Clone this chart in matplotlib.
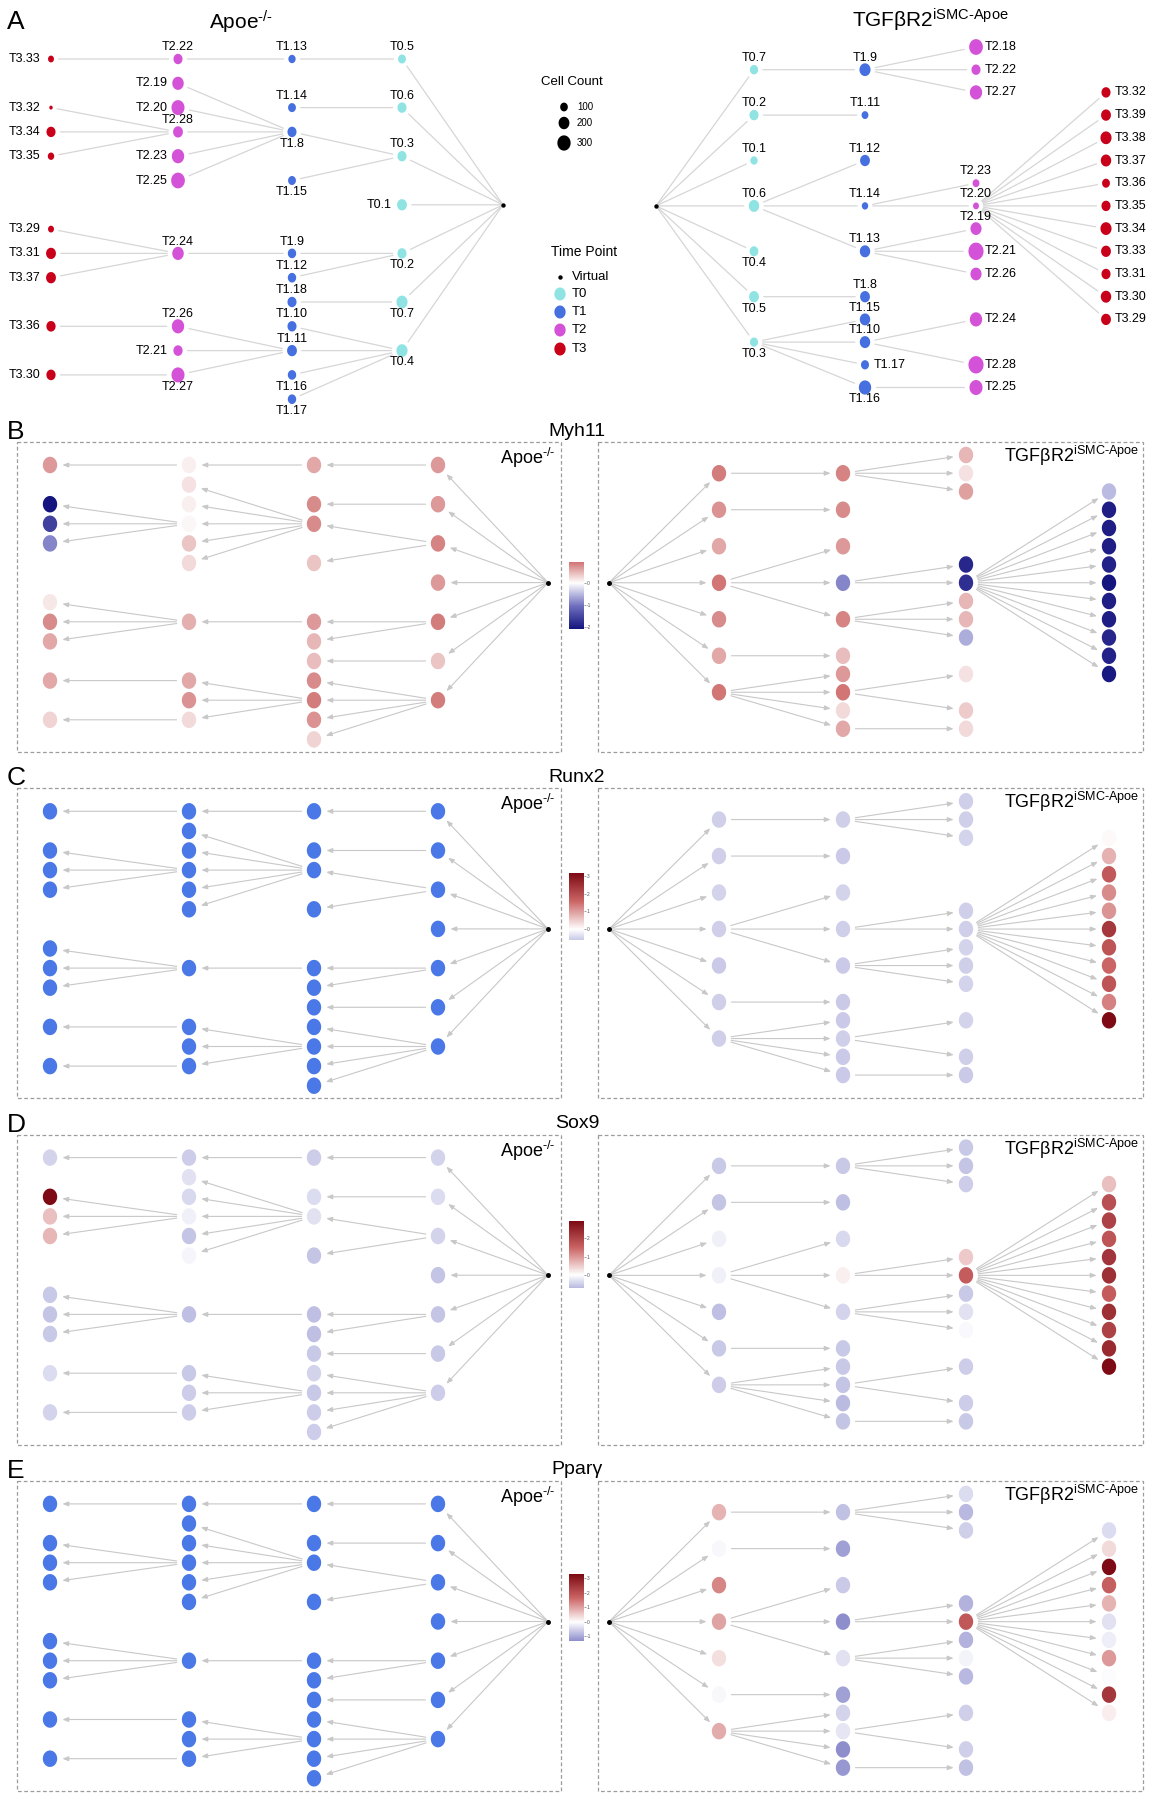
import numpy as np
import matplotlib
matplotlib.use("Agg")
import matplotlib.pyplot as plt
from matplotlib.path import Path
from matplotlib.patches import Rectangle
from matplotlib.colors import LinearSegmentedColormap, Normalize

plt.rcParams['font.family'] = ['Liberation Sans', 'DejaVu Sans']
plt.rcParams['mathtext.fontset'] = 'custom'
plt.rcParams['mathtext.rm'] = 'Liberation Sans'
plt.rcParams['mathtext.it'] = 'Liberation Sans:italic'
plt.rcParams['mathtext.bf'] = 'Liberation Sans:bold'

# --- Data: lineage trees (clusters per time point, parent cluster, cell counts) ---
TIMES = ['T0', 'T1', 'T2', 'T3']
CELL_LEGEND = [100, 200, 300]

apoe_nodes = [
    ['T0.5', 'T0.6', 'T0.3', 'T0.1', 'T0.2', 'T0.7', 'T0.4'],
    ['T1.13', 'T1.14', 'T1.8', 'T1.15', 'T1.9', 'T1.12', 'T1.18', 'T1.10', 'T1.11', 'T1.16', 'T1.17'],
    ['T2.22', 'T2.19', 'T2.20', 'T2.28', 'T2.23', 'T2.25', 'T2.24', 'T2.26', 'T2.21', 'T2.27'],
    ['T3.33', 'T3.32', 'T3.34', 'T3.35', 'T3.29', 'T3.31', 'T3.37', 'T3.36', 'T3.30'],
]
apoe_parent = [
    ['Virtual'] * 7,
    ['T0.5', 'T0.6', 'T0.3', 'T0.3', 'T0.2', 'T0.2', 'T0.7', 'T0.4', 'T0.4', 'T0.4', 'T0.4'],
    ['T1.13', 'T1.8', 'T1.8', 'T1.8', 'T1.8', 'T1.8', 'T1.9', 'T1.11', 'T1.11', 'T1.11'],
    ['T2.22', 'T2.28', 'T2.28', 'T2.28', 'T2.24', 'T2.24', 'T2.24', 'T2.26', 'T2.27'],
]
apoe_cells = [
    [105, 140, 140, 165, 140, 210, 210],
    [90, 105, 140, 105, 120, 120, 140, 140, 165, 120, 120],
    [140, 225, 290, 165, 260, 320, 225, 260, 145, 290],
    [60, 20, 140, 70, 60, 165, 165, 145, 145],
]

tgfb_nodes = [
    ['T0.7', 'T0.2', 'T0.1', 'T0.6', 'T0.4', 'T0.5', 'T0.3'],
    ['T1.9', 'T1.11', 'T1.12', 'T1.14', 'T1.13', 'T1.8', 'T1.15', 'T1.10', 'T1.17', 'T1.16'],
    ['T2.18', 'T2.22', 'T2.27', 'T2.23', 'T2.20', 'T2.19', 'T2.21', 'T2.26', 'T2.24', 'T2.28', 'T2.25'],
    ['T3.32', 'T3.39', 'T3.38', 'T3.37', 'T3.36', 'T3.35', 'T3.34', 'T3.33', 'T3.31', 'T3.30', 'T3.29'],
]
tgfb_parent = [
    ['Virtual'] * 7,
    ['T0.7', 'T0.2', 'T0.6', 'T0.6', 'T0.6', 'T0.5', 'T0.3', 'T0.3', 'T0.3', 'T0.3'],
    ['T1.9', 'T1.9', 'T1.9', 'T1.14', 'T1.14', 'T1.13', 'T1.13', 'T1.13', 'T1.10', 'T1.10', 'T1.16'],
    ['T2.20'] * 11,
]
tgfb_cells = [
    [115, 140, 90, 185, 130, 165, 110],
    [210, 80, 165, 70, 185, 165, 185, 185, 110, 260],
    [320, 140, 260, 80, 60, 210, 390, 210, 260, 390, 290],
    [140, 165, 210, 185, 105, 140, 210, 165, 140, 185, 165],
]

# --- Data: scaled gene expression per cluster (node order T0, T1, T2, T3; nan = not shown) ---
genes = ['Myh11', 'Runx2', 'Sox9', 'Pparγ']
nan = np.nan
myh11_apoe = [0.7, 0.7, 0.85, 0.7, 0.9, 0.4, 0.9,
              0.6, 0.8, 0.8, 0.4, 0.7, 0.5, 0.45, 0.8, 0.9, 0.75, 0.3,
              0.1, 0.2, 0.1, 0.05, 0.4, 0.25, 0.55, 0.6, 0.75, 0.25,
              0.7, -2.1, -1.6, -0.9, 0.15, 0.8, 0.6, 0.6, 0.3]
myh11_tgfb = [0.9, 0.75, 0.6, 0.95, 0.8, 0.6, 0.95,
              0.85, 0.8, 0.7, -0.9, 0.85, 0.45, 0.7, 0.95, 0.25, 0.6,
              0.5, 0.2, 0.65, -1.9, -1.8, 0.5, 0.5, -0.6, 0.2, 0.35, 0.25,
              -0.5, -2.0, -2.0, -2.0, -1.95, -2.1, -2.0, -2.0, -1.9, -1.95, -2.05]
runx2_apoe = [nan] * 37
runx2_tgfb = [-0.55, -0.55, -0.5, -0.55, -0.6, -0.55, -0.55,
              -0.55, -0.6, -0.5, -0.55, -0.6, -0.6, -0.6, -0.55, -0.6, -0.6,
              -0.55, -0.55, -0.5, -0.55, -0.55, -0.5, -0.55, -0.5, -0.5, -0.55, -0.6,
              0.05, 0.8, 1.8, 1.2, 1.1, 2.4, 1.9, 1.6, 1.9, 1.3, 3.2]
sox9_apoe = [-0.45, -0.35, -0.45, -0.6, -0.6, -0.55, -0.5,
             -0.5, -0.35, -0.3, -0.6, -0.65, -0.65, -0.55, -0.45, -0.55, -0.5, -0.5,
             -0.5, -0.3, -0.4, -0.15, -0.6, -0.1, -0.65, -0.55, -0.5, -0.5,
             -0.45, 2.9, 0.6, 0.7, -0.55, -0.6, -0.55, -0.35, -0.45]
sox9_tgfb = [-0.55, -0.6, -0.15, -0.15, -0.65, -0.55, -0.5,
             -0.55, -0.65, -0.4, 0.15, -0.45, -0.55, -0.55, -0.6, -0.7, -0.6,
             -0.55, -0.6, -0.5, 0.5, 1.6, -0.55, -0.3, -0.05, -0.5, -0.5, -0.55,
             0.6, 1.8, 2.0, 1.7, 2.2, 2.3, 1.6, 2.3, 2.0, 2.4, 2.9]
ppar_apoe = [nan] * 37
ppar_tgfb = [0.8, -0.1, 1.3, 1.0, 0.35, -0.1, 0.9,
             -0.7, -1.1, -0.6, -1.3, -0.35, -1.1, -0.5, -0.3, -1.3, -1.2,
             -0.4, -0.8, -0.55, -0.9, 1.9, -0.9, -0.15, -0.8, -0.55, -0.55, -0.7,
             -0.4, 0.4, 3.3, 1.8, 0.8, -0.35, -0.2, 1.1, -0.05, 2.5, 0.2]
expr_apoe = [myh11_apoe, runx2_apoe, sox9_apoe, ppar_apoe]
expr_tgfb = [myh11_tgfb, runx2_tgfb, sox9_tgfb, ppar_tgfb]

# --- Layout: row slot of every node, label side in panel A ---
apoe_slot = [[0, 2, 4, 6, 8, 10, 12], [0, 2, 3, 5, 8, 9, 10, 11, 12, 13, 14],
             [0, 1, 2, 3, 4, 5, 8, 11, 12, 13], [0, 2, 3, 4, 7, 8, 9, 11, 13]]
tgfb_slot = [[1, 3, 5, 7, 9, 11, 13], [1, 3, 5, 7, 9, 11, 12, 13, 14, 15],
             [0, 1, 2, 6, 7, 8, 9, 10, 12, 14, 15], list(range(2, 13))]
apoe_side = [list('aaalbbb'), list('aabbaaaaabb'), list('allallaalb'), list('l' * 9)]
tgfb_side = [list('aaaabbb'), list('aaaaaaaarb'), list('rrraaarrrrr'), list('r' * 11)]

W, H = 1151, 1800
PT = 0.72  # points per pixel at 100 dpi
TIME_COLORS = ['#8fe3e3', '#4670e0', '#d452d8', '#c8001a']
cmap = LinearSegmentedColormap.from_list(
    'expr', [(0.0, '#15157f'), (0.25, '#7070c0'), (0.5, '#ffffff'),
             (0.75, '#cc6666'), (1.0, '#7d0a14')])
cmap.set_bad('#4a78e6')

th = np.linspace(0, 2 * np.pi, 64)
oval = Path(np.column_stack([0.87 * np.cos(th), np.sin(th)]), closed=True)


def flat(lst):
    return [v for sub in lst for v in sub]


def positions(nodes, slot, colx, y0, dy, root_slot):
    pos = {'Virtual': (colx[0], y0 + root_slot * dy)}
    for t in range(4):
        for name, r in zip(nodes[t], slot[t]):
            pos[name] = (colx[t + 1], y0 + r * dy)
    return pos


def draw_edges(ax, nodes, parent, pos, half, color, lw, arrows):
    style = '-|>,head_length=0.35,head_width=0.14' if arrows else '-'
    for t in range(4):
        for name, par in zip(nodes[t], parent[t]):
            sa = 1 if par == 'Virtual' else half[par] + 3
            ax.annotate('', xy=pos[name], xytext=pos[par], zorder=1,
                        arrowprops=dict(arrowstyle=style, color=color, lw=lw,
                                        shrinkA=sa, shrinkB=half[name] + 3))


fig = plt.figure(figsize=(W / 100, H / 100), dpi=100)
ax = fig.add_axes([0, 0, 1, 1])
ax.set_xlim(0, W)
ax.set_ylim(H, 0)
ax.axis('off')

# ---------------- Panel A: lineage trees with cell counts ----------------
def node_h(c):
    return 0.88 * np.sqrt(c)


for nodes, parent, cells, slot, side, geo in [
        (apoe_nodes, apoe_parent, apoe_cells, apoe_slot, apoe_side,
         dict(colx=[503, 402, 292, 178, 51], y0=59, dy=24.3, root_slot=6)),
        (tgfb_nodes, tgfb_parent, tgfb_cells, tgfb_slot, tgfb_side,
         dict(colx=[656, 754, 865, 976, 1106], y0=47, dy=22.7, root_slot=7))]:
    pos = positions(nodes, slot, **geo)
    half = {n: node_h(c) / 2 * PT for n, c in zip(flat(nodes), flat(cells))}
    draw_edges(ax, nodes, parent, pos, half, '#d6d6d6', 0.9, False)
    names = flat(nodes)
    ax.scatter([pos[n][0] for n in names], [pos[n][1] for n in names],
               s=[(node_h(c) * PT) ** 2 for c in flat(cells)], marker=oval,
               c=[TIME_COLORS[t] for t in range(4) for _ in nodes[t]],
               linewidths=0, zorder=3)
    ax.scatter(*pos['Virtual'], s=(3 * PT) ** 2, c='k', zorder=3)
    for n, sd in zip(names, flat(side)):
        off = {'a': (0, 8.5), 'b': (0, -8.5), 'l': (-7.5, 0), 'r': (6.5, 0)}[sd]
        ha = {'a': 'center', 'b': 'center', 'l': 'right', 'r': 'left'}[sd]
        ax.annotate(n, pos[n], xytext=off, textcoords='offset points',
                    ha=ha, va='center', fontsize=9, zorder=4)

ax.text(7, 22, 'A', fontsize=19, ha='left', va='center')
ax.text(241, 22, r'Apoe$^{\text{-/-}}$', fontsize=15, ha='center', va='center')
ax.text(930, 20, r'TGFβR2$^{\text{iSMC-Apoe}}$', fontsize=15, ha='center', va='center')

# legends
narrow = ['Liberation Sans Narrow', 'Liberation Sans']
ax.text(572, 82, 'Cell Count', ha='center', va='center', fontsize=9.5, family=narrow)
leg_y = [107, 123, 143]
ax.scatter([564] * 3, leg_y, s=[(node_h(c) * PT) ** 2 for c in CELL_LEGEND],
           marker=oval, c='k', linewidths=0)
for c, y in zip(CELL_LEGEND, leg_y):
    ax.text(577, y, str(c), ha='left', va='center', fontsize=7, family=narrow)

ax.text(584, 252, 'Time Point', ha='center', va='center', fontsize=10, family=narrow)
tp_labels = ['Virtual'] + TIMES
tp_y = [277, 294, 312, 330, 349]
ax.scatter([560], [tp_y[0]], s=(3 * PT) ** 2, c='k')
ax.scatter([560] * 4, tp_y[1:], s=(13 * PT) ** 2, marker=oval, c=TIME_COLORS, linewidths=0)
for lab, y in zip(tp_labels, tp_y):
    ax.text(572, y, lab, ha='left', va='center', fontsize=9.5, family=narrow)

# ---------------- Panels B-E: gene expression on the trees ----------------
letters = ['B', 'C', 'D', 'E']
box_h = 310
NODE_H = 16.5
for k, gene in enumerate(genes):
    top = 442 + 346.3 * k
    ax.text(7, top - 10, letters[k], fontsize=19, ha='left', va='center')
    ax.text(577, top - 11, gene, fontsize=14, ha='center', va='center')
    for x0, x1 in [(17, 561), (598, 1143)]:
        ax.add_patch(Rectangle((x0, top), x1 - x0, box_h, fill=False,
                               ec='#9c9c9c', lw=0.9, ls=(0, (3, 2))))
    ax.text(556, top + 16, r'Apoe$^{\text{-/-}}$', fontsize=13, ha='right', va='center')
    ax.text(1139, top + 14, r'TGFβR2$^{\text{iSMC-Apoe}}$', fontsize=13, ha='right', va='center')

    vals_all = np.array(expr_apoe[k] + expr_tgfb[k], dtype=float)
    vmin, vmax = np.nanmin(vals_all), np.nanmax(vals_all)
    m = max(abs(vmin), abs(vmax))
    norm = Normalize(-m, m)

    for nodes, parent, slot, vals, geo in [
            (apoe_nodes, apoe_parent, apoe_slot, expr_apoe[k],
             dict(colx=[548, 438, 314, 189, 50], y0=top + 23, dy=19.6, root_slot=6)),
            (tgfb_nodes, tgfb_parent, tgfb_slot, expr_tgfb[k],
             dict(colx=[609, 719, 843, 966, 1109], y0=top + 13, dy=18.25, root_slot=7))]:
        pos = positions(nodes, slot, **geo)
        names = flat(nodes)
        half = {n: NODE_H / 2 * PT for n in names}
        draw_edges(ax, nodes, parent, pos, half, '#c8c8c8', 0.8, True)
        ax.scatter([pos[n][0] for n in names], [pos[n][1] for n in names],
                   s=(NODE_H * PT) ** 2, marker=oval, c=vals, cmap=cmap, norm=norm,
                   plotnonfinite=True, linewidths=0, zorder=3)
        ax.scatter(*pos['Virtual'], s=(3.5 * PT) ** 2, c='k', zorder=3)
        root_y = pos['Virtual'][1]

    # colour bar, zero aligned with the root row
    cb_h = 67
    ppu = cb_h / (vmax - vmin)
    y_top = root_y - vmax * ppu
    cax = fig.add_axes([569 / W, 1 - (y_top + cb_h) / H, 15 / W, cb_h / H])
    grad = np.linspace(vmax, vmin, 256)[:, None]
    cax.imshow(grad, aspect='auto', cmap=cmap, norm=norm, extent=[0, 1, vmin, vmax])
    cax.set_xticks([])
    ticks = np.arange(np.ceil(vmin), np.floor(vmax) + 1)
    cax.yaxis.tick_right()
    cax.set_yticks(ticks)
    cax.set_yticklabels([f'{int(t)}' for t in ticks])
    cax.tick_params(axis='y', labelsize=3.5, length=1.2, width=0.4, pad=1, colors='#555555')
    for sp in cax.spines.values():
        sp.set_visible(False)

fig.savefig('out.png', dpi=100)
